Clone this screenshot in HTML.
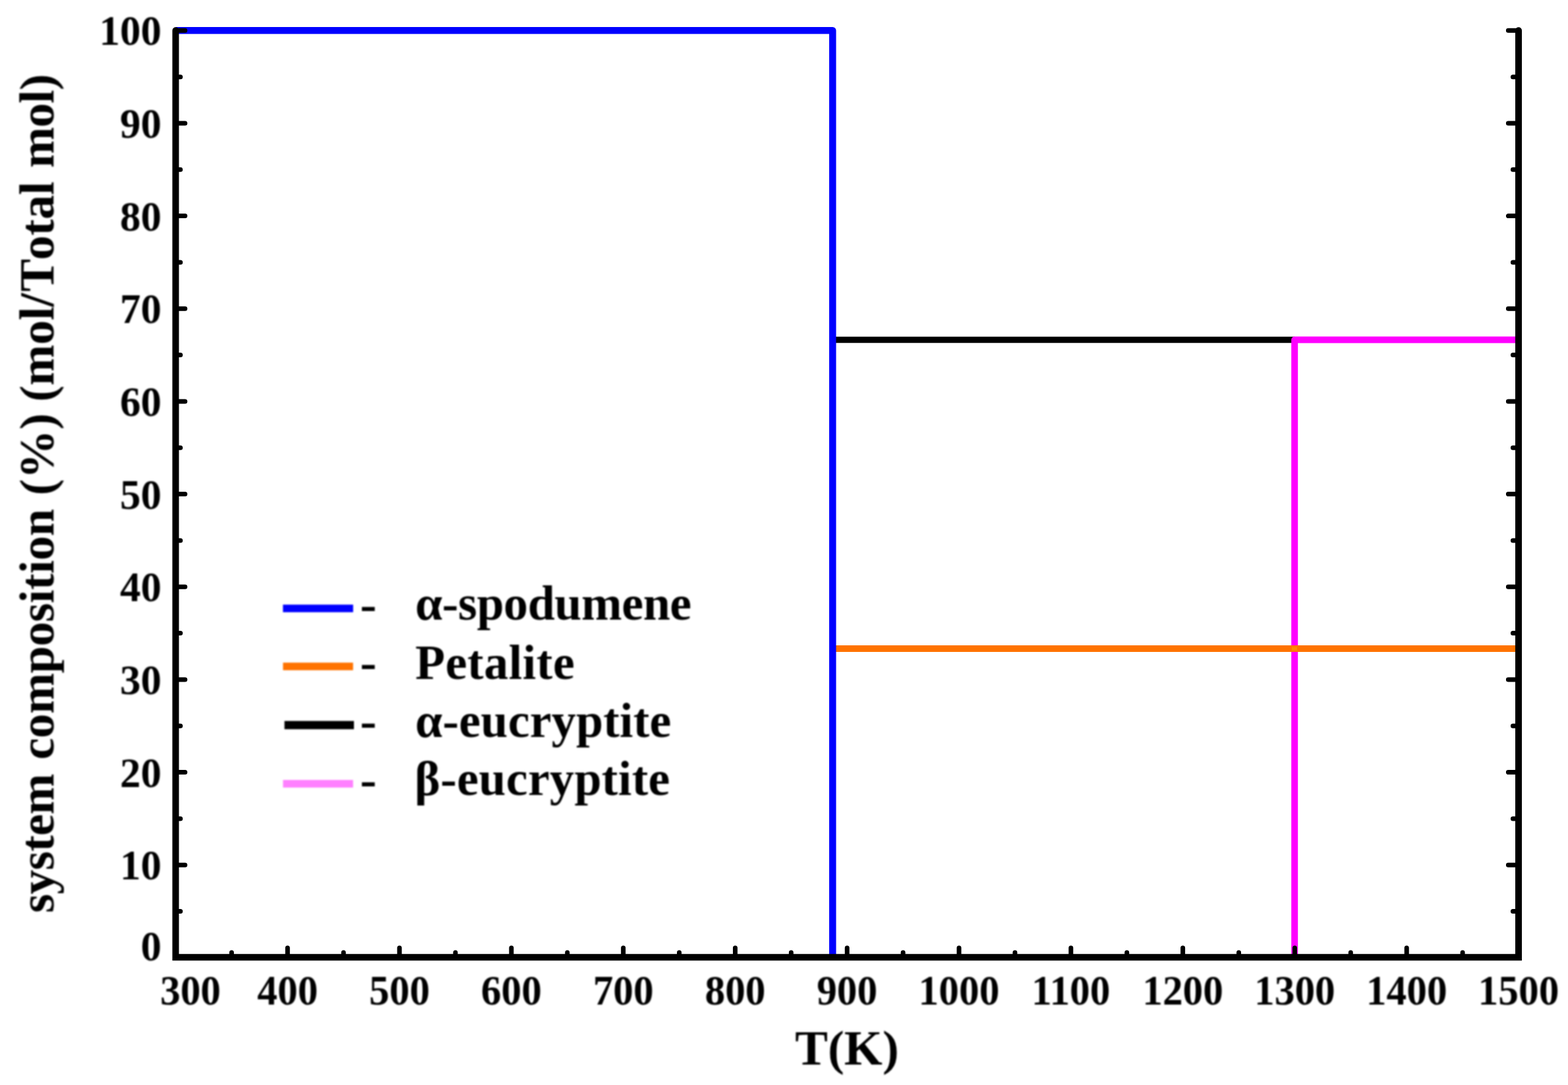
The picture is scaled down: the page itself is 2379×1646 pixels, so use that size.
<!DOCTYPE html>
<html lang="en">
<head>
<meta charset="utf-8">
<title>System composition vs temperature</title>
<style>
html,body{margin:0;padding:0;background:#fff;}
body{width:2379px;height:1646px;overflow:hidden;}
svg{display:block;}
.txt{filter:blur(0.8px);}
text{font-family:"Liberation Serif","Times New Roman",serif;font-weight:bold;fill:#000;}
.tk{font-size:64px;}
.lab{font-size:74.6px;}
.leg{font-size:74px;}
.dash{font-family:"Liberation Sans",Arial,sans-serif;font-weight:normal;font-size:80px;}
</style>
</head>
<body>
<svg width="2379" height="1646" viewBox="0 0 2379 1646">
<rect width="2379" height="1646" fill="#fff"/>
<g fill="none" stroke-width="10">
<path d="M1263 515.5 H1964" stroke="#000" stroke-width="9.5"/>
<path d="M1964.2 1452.2 V515.5 H2304" stroke="#f0f" stroke-linejoin="round"/>
<path d="M1263.3 984 H2304" stroke="#ff7300"/>
<rect x="1960" y="981.5" width="8" height="5" fill="#ff8c00"/>
<path d="M266.5 46.2 H1263.3 V1452.2" stroke="#00f" stroke-width="10.5" stroke-linejoin="round"/>
</g>
<g stroke="#000" fill="none" stroke-linecap="round" stroke-width="7">
<path d="M266.50 1452.2 V1437.9 M351.40 1452.2 V1444.9 M436.29 1452.2 V1437.9 M521.19 1452.2 V1444.9 M606.08 1452.2 V1437.9 M690.98 1452.2 V1444.9 M775.88 1452.2 V1437.9 M860.77 1452.2 V1444.9 M945.67 1452.2 V1437.9 M1030.56 1452.2 V1444.9 M1115.46 1452.2 V1437.9 M1200.35 1452.2 V1444.9 M1285.25 1452.2 V1437.9 M1370.15 1452.2 V1444.9 M1455.04 1452.2 V1437.9 M1539.94 1452.2 V1444.9 M1624.83 1452.2 V1437.9 M1709.73 1452.2 V1444.9 M1794.62 1452.2 V1437.9 M1879.52 1452.2 V1444.9 M1964.42 1452.2 V1437.9 M2049.31 1452.2 V1444.9 M2134.21 1452.2 V1437.9 M2219.10 1452.2 V1444.9 M2304.00 1452.2 V1437.9"/>
<path d="M266.5 1452.90 H280.8 M2304 1452.90 H2288.4 M266.5 1382.57 H273.8 M2304 1382.57 H2295.4 M266.5 1312.24 H280.8 M2304 1312.24 H2288.4 M266.5 1241.91 H273.8 M2304 1241.91 H2295.4 M266.5 1171.58 H280.8 M2304 1171.58 H2288.4 M266.5 1101.25 H273.8 M2304 1101.25 H2295.4 M266.5 1030.92 H280.8 M2304 1030.92 H2288.4 M266.5 960.59 H273.8 M2304 960.59 H2295.4 M266.5 890.26 H280.8 M2304 890.26 H2288.4 M266.5 819.93 H273.8 M2304 819.93 H2295.4 M266.5 749.60 H280.8 M2304 749.60 H2288.4 M266.5 679.27 H273.8 M2304 679.27 H2295.4 M266.5 608.94 H280.8 M2304 608.94 H2288.4 M266.5 538.61 H273.8 M2304 538.61 H2295.4 M266.5 468.28 H280.8 M2304 468.28 H2288.4 M266.5 397.95 H273.8 M2304 397.95 H2295.4 M266.5 327.62 H280.8 M2304 327.62 H2288.4 M266.5 257.29 H273.8 M2304 257.29 H2295.4 M266.5 186.96 H280.8 M2304 186.96 H2288.4 M266.5 116.63 H273.8 M2304 116.63 H2295.4 M266.5 46.30 H280.8 M2304 46.30 H2288.4"/>
</g>
<path d="M266.5 46.2 V1452.2 H2304 V46.2" fill="none" stroke="#000" stroke-width="10" stroke-linejoin="miter" stroke-linecap="round"/>
<g class="txt">
<g class="tk" text-anchor="middle">
<text transform="translate(289.0 1524) scale(0.96 1)">300</text>
<text transform="translate(436.3 1524) scale(0.96 1)">400</text>
<text transform="translate(606.1 1524) scale(0.96 1)">500</text>
<text transform="translate(775.9 1524) scale(0.96 1)">600</text>
<text transform="translate(945.7 1524) scale(0.96 1)">700</text>
<text transform="translate(1115.5 1524) scale(0.96 1)">800</text>
<text transform="translate(1285.2 1524) scale(0.96 1)">900</text>
<text transform="translate(1455.0 1524) scale(0.96 1)">1000</text>
<text transform="translate(1624.8 1524) scale(0.96 1)">1100</text>
<text transform="translate(1794.6 1524) scale(0.96 1)">1200</text>
<text transform="translate(1964.4 1524) scale(0.96 1)">1300</text>
<text transform="translate(2134.2 1524) scale(0.96 1)">1400</text>
<text transform="translate(2304.0 1524) scale(0.96 1)">1500</text>
</g>
<g class="tk" text-anchor="end">
<text transform="translate(245 1457.0) scale(0.985 1)">0</text>
<text transform="translate(245 1334.2) scale(0.985 1)">10</text>
<text transform="translate(245 1193.6) scale(0.985 1)">20</text>
<text transform="translate(245 1052.9) scale(0.985 1)">30</text>
<text transform="translate(245 912.3) scale(0.985 1)">40</text>
<text transform="translate(245 771.6) scale(0.985 1)">50</text>
<text transform="translate(245 630.9) scale(0.985 1)">60</text>
<text transform="translate(245 490.3) scale(0.985 1)">70</text>
<text transform="translate(245 349.6) scale(0.985 1)">80</text>
<text transform="translate(245 209.0) scale(0.985 1)">90</text>
<text transform="translate(245 68.3) scale(0.985 1)">100</text>
</g>
<text class="lab" text-anchor="middle" x="1285" y="1615.3">T(K)</text>
<text class="lab" transform="translate(81.2 0) rotate(-90)"><tspan x="-1385" style="letter-spacing:-0.8px">system </tspan><tspan x="-1152.5" style="letter-spacing:-0.5px">composition </tspan><tspan x="-751.5" style="letter-spacing:0.2px">(%) </tspan><tspan x="-609.5" style="letter-spacing:-0.22px">(mol/</tspan><tspan x="-442.6" style="letter-spacing:0px">T</tspan><tspan x="-394.5" style="letter-spacing:-0.27px">otal </tspan><tspan x="-254.7" style="letter-spacing:-0.85px">mol)</tspan></text>
<path d="M429.3 923 H535.8" stroke="#00f" stroke-width="11.5" fill="none"/>
<text class="dash" x="545.5" y="944.8">-</text>
<text class="leg" x="630" y="940.4" style="letter-spacing:-0.45px">α-spodumene</text>
<path d="M429.4 1011.1 H535.7" stroke="#ff7300" stroke-width="11.5" fill="none"/>
<text class="dash" x="545.5" y="1033.4">-</text>
<text class="leg" x="630" y="1029.5" style="letter-spacing:0.5px">Petalite</text>
<path d="M431.6 1100.1 H537" stroke="#000" stroke-width="12.5" fill="none"/>
<text class="dash" x="545.5" y="1122.4">-</text>
<text class="leg" x="630" y="1117.9" style="letter-spacing:0.18px">α-eucryptite</text>
<path d="M429.4 1189.1 H535.7" stroke="#ff80ff" stroke-width="11.5" fill="none"/>
<text class="dash" x="545.5" y="1210.8">-</text>
<text class="leg" x="629" y="1205.9" style="letter-spacing:0.3px">β-eucryptite</text>
</g>
</svg>
</body>
</html>
